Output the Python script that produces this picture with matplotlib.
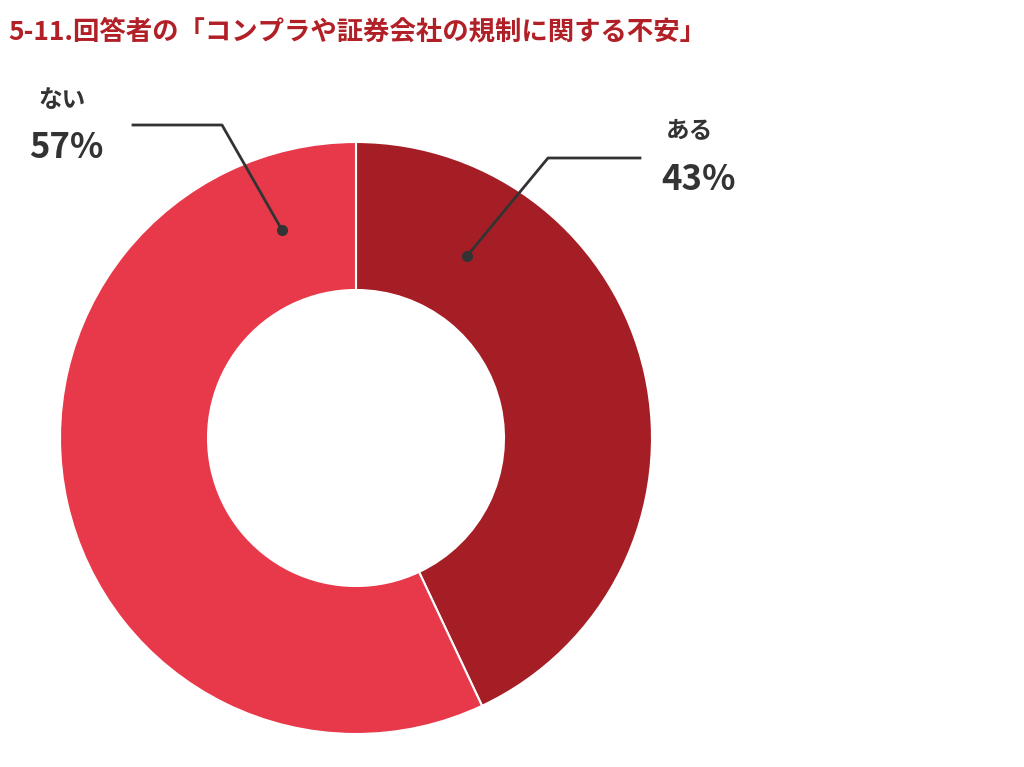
import matplotlib
matplotlib.use("Agg")
import matplotlib.pyplot as plt

plt.rcParams['font.family'] = ['Noto Sans CJK JP', 'DejaVu Sans']

labels = ["ある", "ない"]
values = [43, 57]
colors = ["#A61E25", "#E8394A"]
title = "5-11.回答者の「コンプラや証券会社の規制に関する不安」"

H = 767
fig = plt.figure(figsize=(10.24, 7.67), dpi=100)
ax = fig.add_axes([0, 0, 1, 1])
ax.set_xlim(0, 1024)
ax.set_ylim(0, H)
ax.set_aspect('equal')
ax.axis('off')

cx, cy, r = 356, H - 438, 296
ax.pie(values, colors=colors, startangle=90, counterclock=False,
       center=(cx, cy), radius=r, frame=True,
       wedgeprops=dict(width=r * 0.5, edgecolor='white', linewidth=1.5))
ax.set_xlim(0, 1024)
ax.set_ylim(0, H)
ax.axis('off')

def Y(y):
    return H - y

# leader lines
ax.plot([467, 548, 640], [Y(256), Y(158), Y(158)], color='#333333', lw=2)
ax.plot(467, Y(256), 'o', color='#333333', ms=7)
ax.plot([282, 222, 133], [Y(230), Y(125), Y(125)], color='#333333', lw=2)
ax.plot(282, Y(230), 'o', color='#333333', ms=7)

ax.text(690, Y(130), f"{labels[0]}", ha='center', va='center', fontsize=17, color='#333333', fontweight='bold')
ax.text(698, Y(180), f"{values[0]}%", ha='center', va='center', fontsize=25, color='#333333', fontweight='bold')
ax.text(62, Y(100), f"{labels[1]}", ha='center', va='center', fontsize=17, color='#333333', fontweight='bold')
ax.text(66, Y(148), f"{values[1]}%", ha='center', va='center', fontsize=25, color='#333333', fontweight='bold')

ax.text(8, Y(32), title, ha='left', va='center', fontsize=19, color='#B22027', fontweight='bold')

fig.savefig("out.png", dpi=100, facecolor='white')
